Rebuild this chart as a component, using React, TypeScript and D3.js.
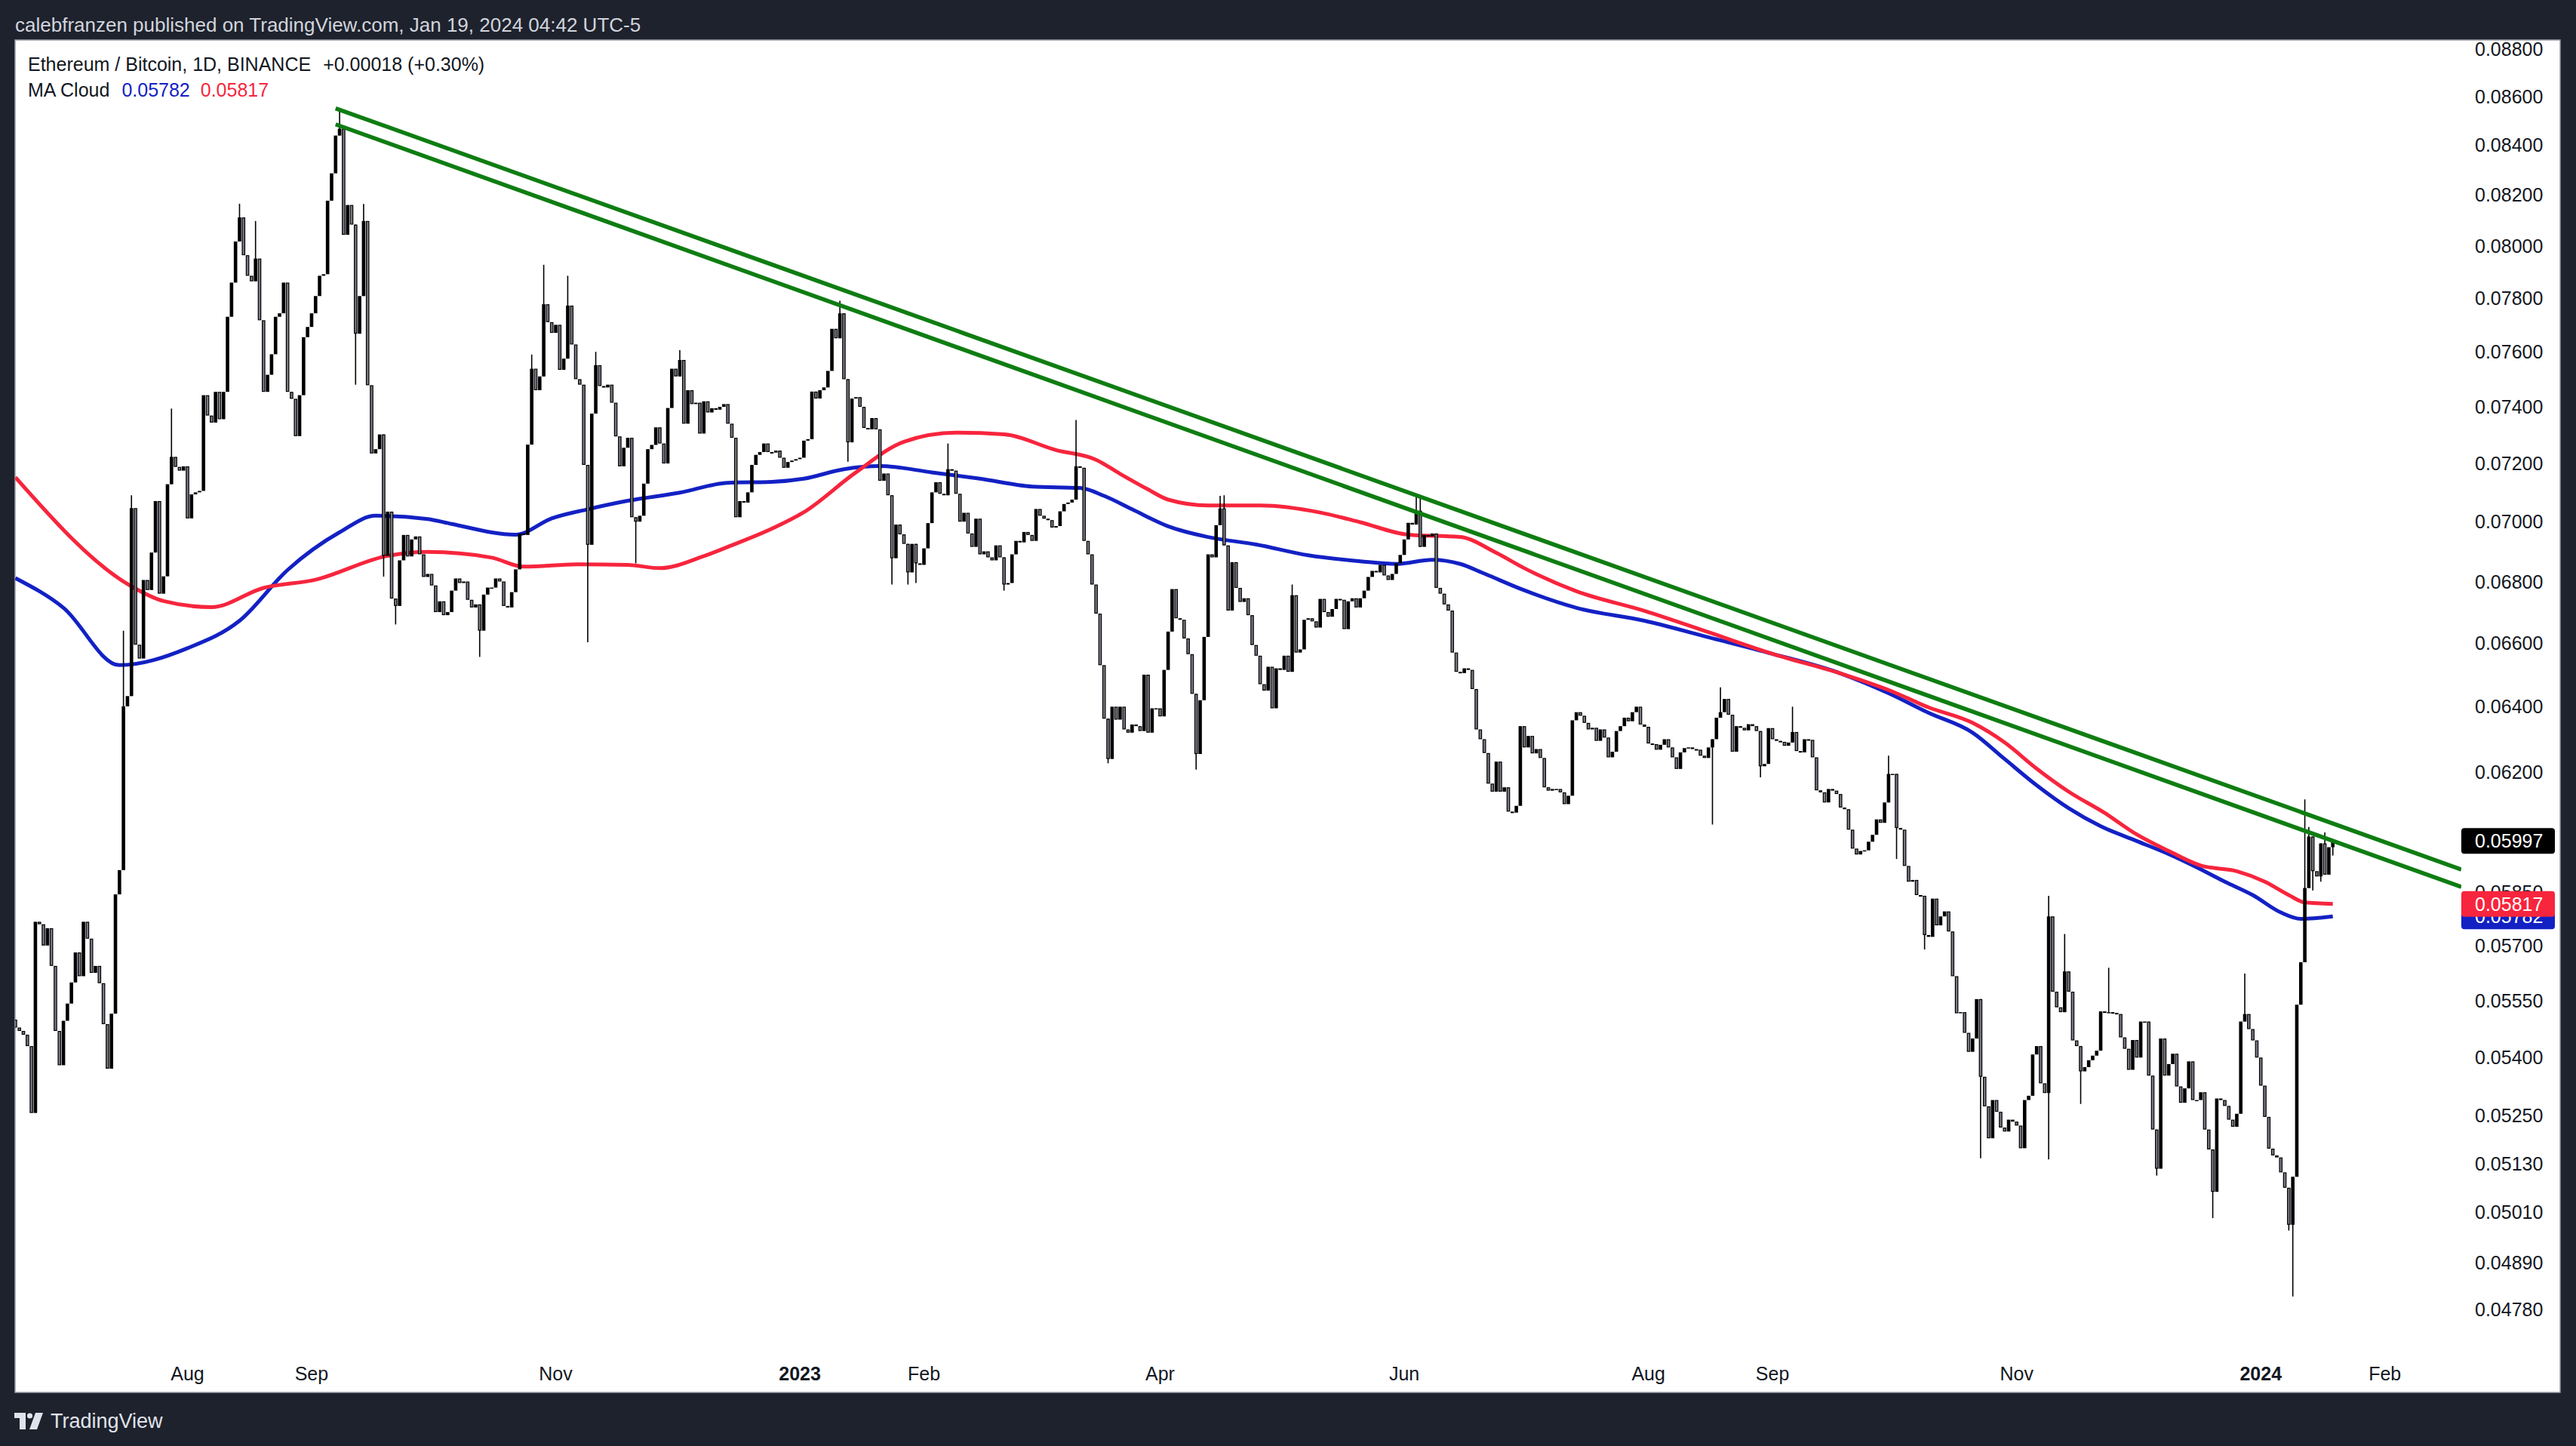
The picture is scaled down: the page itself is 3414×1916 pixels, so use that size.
import React from 'react'
import * as d3 from 'd3'

// page reset so the svg sits at 0,0
if (typeof document !== 'undefined') {
  document.body.style.margin = '0'
  document.body.style.background = '#1e222d'
}

const W = 3414
const H = 1916

// ETH/BTC daily closes (x1e5), 2022-06-19 .. 2024-01-19, open = previous close
const startDate = new Date(Date.UTC(2022, 5, 19))
const firstOpen = 5500
const closes: number[] = [
  // 2022 Jun 19 - Sep 20
  5479, 5470, 5460, 5430, 5257, 5767, 5760, 5701, 5749, 5645,
  5470, 5380, 5497, 5543, 5600, 5682, 5617, 5767, 5720, 5626,
  5645, 5598, 5488, 5371, 5516, 5844, 5913, 6401, 6433, 7046,
  6595, 6551, 6805, 6772, 6896, 7070, 6760, 6817, 7128, 7223,
  7188, 7175, 7190, 7011, 7093, 7100, 7105, 7442, 7369, 7344,
  7454, 7356, 7454, 7730, 7859, 8017, 8111, 7964, 7885, 7864,
  7951, 7717, 7454, 7516, 7591, 7730, 7743, 7859, 7454, 7429,
  7296, 7442, 7654, 7692, 7743, 7808, 7885, 7891, 8177, 8286,
  8439, 8467, 8043, 8160, 8083, 7667, 7808, 8097, 7478, 7235,
  7250, 7302, 6885, 7034,
  // Sep 21 - Dec 20
  6744, 6720, 6870, 6955, 6883, 6940, 6950, 6890, 6815, 6825,
  6787, 6700, 6735, 6690, 6700, 6770, 6810, 6795, 6800, 6740,
  6715, 6725, 6640, 6757, 6780, 6780, 6810, 6800, 6720, 6715,
  6765, 6840, 6960, 6955, 7266, 7538, 7460, 7510, 7777, 7710,
  7670, 7700, 7534, 7575, 7772, 7627, 7500, 7480, 7195, 6922,
  7376, 7551, 7475, 7470, 7480, 7415, 7295, 7190, 7255, 7290,
  7015, 7000, 7020, 7130, 7250, 7265, 7327, 7270, 7200, 7396,
  7538, 7510, 7570, 7340, 7460, 7410, 7415, 7305, 7420, 7380,
  7395, 7390, 7400, 7410, 7340, 7290, 7015, 7070, 7065, 7100,
  7195,
  // Dec 21 - Mar 24 2023
  7230, 7240, 7270, 7240, 7238, 7245, 7220, 7185, 7205, 7210,
  7215, 7220, 7280, 7285, 7455, 7430, 7460, 7470, 7530, 7685,
  7650, 7743, 7500, 7274, 7430, 7435, 7400, 7325, 7320, 7360,
  7320, 7140, 7165, 7090, 6877, 6990, 6957, 6925, 6830, 6925,
  6860, 6855, 6910, 6995, 7100, 7135, 7095, 7090, 7180, 7175,
  7095, 7000, 7030, 6960, 6915, 7010, 6890,
  6900, 6880, 6870, 6920, 6880, 6790, 6795, 6890, 6935, 6930,
  6965, 6955, 6935, 7043, 7020,
  7010, 7005, 6980, 6985, 7035, 7060, 7065, 7075, 7190, 7185,
  6935, 6890, 6790, 6695, 6530, 6363, 6240, 6400, 6360, 6400,
  6330, 6320,
  // Mar 25 - Jun 30
  6345, 6340, 6325, 6500, 6320, 6395,
  6395, 6370, 6515, 6637, 6775, 6680, 6675, 6615, 6565, 6440,
  6255, 6420, 6620, 6890, 6880, 6988, 7045, 6920, 6705, 6864,
  6779, 6733, 6745, 6690, 6594, 6560, 6470, 6450, 6525, 6395,
  6520, 6515, 6560, 6509, 6755, 6570, 6580, 6675, 6680, 6670,
  6650, 6743, 6700, 6685, 6710, 6743, 6740, 6645, 6735, 6745,
  6715, 6745, 6770, 6815, 6835, 6830, 6855, 6820, 6805, 6825,
  6860, 6888, 6940, 6996,
  6990, 7037, 6915, 6955, 6950, 6960, 6779, 6760, 6725, 6705,
  6570, 6509, 6505, 6520, 6515, 6455, 6330, 6300, 6258, 6166,
  6142, 6232, 6142, 6155, 6083, 6080, 6100, 6340,
  // Jul 1 - Oct 9
  6275, 6310, 6257, 6270, 6243, 6155, 6145, 6150, 6150, 6140,
  6105, 6130, 6358, 6383, 6372, 6350, 6330, 6335, 6295, 6330,
  6305, 6245, 6262, 6325, 6340, 6366, 6355, 6383, 6400, 6345,
  6338, 6287, 6285, 6268, 6283, 6300, 6275, 6245, 6210, 6260,
  6273, 6275, 6270, 6268, 6250, 6243, 6275, 6300, 6366, 6383,
  6424, 6375, 6262, 6340, 6335, 6327, 6346, 6340, 6325, 6218,
  6225, 6334, 6300, 6295, 6292,
  6280, 6290, 6322, 6264, 6260, 6300, 6298, 6245, 6146, 6140,
  6110, 6150, 6145, 6135, 6095, 6090, 6030, 5975, 5958, 5968,
  5970, 5995, 6015, 6060, 6050, 6110, 6195, 6195, 6035, 6030,
  5925, 5880, 5885, 5842, 5840, 5730,
  // Oct 10 - Jan 10 2024
  5725, 5832, 5757, 5782, 5796, 5740, 5617, 5517, 5520, 5465,
  5415, 5450, 5555, 5350, 5274, 5193, 5290, 5260, 5220, 5210,
  5240, 5235, 5225, 5168, 5290, 5301, 5408, 5430, 5333, 5308,
  5782, 5575, 5533, 5520, 5630, 5575, 5445, 5430, 5364, 5375,
  5393, 5405, 5418, 5522, 5520, 5520, 5518, 5515, 5453, 5423,
  5368, 5446, 5400, 5495, 5495, 5353, 5215, 5117, 5450, 5353,
  5383, 5410, 5325, 5283, 5320, 5390, 5290, 5290, 5310, 5215,
  5165, 5060, 5294, 5290, 5275, 5240, 5222, 5255, 5495, 5515,
  5475, 5445, 5400, 5327, 5247, 5167, 5150, 5145, 5108, 5070,
  4980, 5097, 5540,
  // Jan 11 - Jan 19
  5655, 5862, 6010, 5910, 5895, 5990, 5900, 5979, 5997,
]

// days with a visible wick (day index, high, low; 0 = none)
const spikeDay = [27, 29, 39, 56, 60, 81, 85, 87, 92, 95, 116, 129, 132, 138, 143, 145, 155, 166, 206, 208, 219, 223, 225, 233, 247, 265, 273, 295, 301, 302, 319, 350, 351, 424, 426, 436, 444, 468, 470, 477, 491, 508, 512, 516, 523, 535, 549, 557, 568, 569, 570, 571, 572, 573, 574, 576, 577, 579]
const spikeHigh = [6640, 7090, 7394, 8165, 8097, 8551, 0, 8164, 0, 0, 0, 7590, 7927, 7885, 0, 7600, 0, 7606, 7790, 0, 0, 0, 0, 7270, 0, 7353, 0, 0, 7088, 7090, 6790, 7084, 7080, 0, 6460, 0, 6400, 6250, 0, 0, 0, 5840, 5733, 0, 5640, 0, 0, 5624, 0, 0, 0, 0, 6119, 6038, 0, 0, 6022, 6003]
const spikeLow = [0, 0, 0, 0, 0, 0, 7480, 0, 6816, 6660, 6556, 0, 0, 0, 6603, 0, 6860, 0, 0, 7206, 6790, 6790, 6795, 0, 6770, 0, 6227, 6208, 0, 0, 0, 0, 0, 6045, 0, 6185, 0, 0, 5945, 5690, 5143, 5140, 0, 5280, 0, 5100, 4996, 0, 4966, 4810, 5440, 5620, 0, 0, 5855, 5880, 0, 5955]

// MA Cloud (day index, x1e5)
const blueDays = [0, 12, 26, 43, 56, 68, 81, 90, 103, 109, 125, 134, 143, 153, 166, 178, 189, 197, 207, 216, 229, 241, 254, 266, 272, 279, 288, 298, 310, 323, 336, 345, 354, 361, 367, 377, 390, 407, 423, 439, 456, 468, 478, 489, 497, 505, 513, 521, 530, 538, 545, 552, 559, 566, 571, 579]
const blueVals = [6811, 6714, 6530, 6584, 6672, 6838, 6964, 7020, 7009, 6992, 6956, 7011, 7042, 7071, 7099, 7133, 7136, 7147, 7180, 7191, 7169, 7147, 7120, 7115, 7088, 7042, 6984, 6948, 6923, 6887, 6867, 6858, 6872, 6858, 6826, 6771, 6714, 6672, 6619, 6566, 6504, 6442, 6381, 6320, 6240, 6161, 6093, 6040, 5997, 5959, 5921, 5880, 5842, 5793, 5775, 5782]
const redDays = [0, 29, 37, 49, 62, 75, 93, 103, 119, 127, 141, 153, 161, 172, 178, 189, 197, 210, 222, 235, 247, 260, 270, 276, 283, 288, 298, 311, 326, 336, 348, 361, 370, 377, 390, 407, 423, 439, 456, 468, 478, 489, 497, 505, 513, 522, 530, 538, 546, 555, 562, 568, 572, 579]
const redVals = [7152, 6784, 6736, 6716, 6779, 6806, 6885, 6898, 6879, 6849, 6857, 6855, 6844, 6884, 6915, 6976, 7032, 7169, 7276, 7308, 7302, 7247, 7213, 7164, 7110, 7075, 7055, 7055, 7031, 6998, 6956, 6948, 6895, 6844, 6768, 6704, 6635, 6566, 6504, 6452, 6398, 6350, 6290, 6211, 6142, 6079, 6016, 5968, 5926, 5910, 5880, 5842, 5821, 5817]

// two parallel trend lines from the Sep 2022 top (anchors: date, price)
const trendDates = ['2022-09-07', '2023-06-15']
const trendUpper = [0.08551, 0.07036]
const trendLower = [0.08485, 0.06979]

const priceTicks = [0.088, 0.086, 0.084, 0.082, 0.08, 0.078, 0.076, 0.074, 0.072, 0.07, 0.068, 0.066, 0.064, 0.062, 0.0585, 0.057, 0.0555, 0.054, 0.0525, 0.0513, 0.0501, 0.0489, 0.0478]
const timeTickDates = ['2022-08-01', '2022-09-01', '2022-11-01', '2023-01-01', '2023-02-01', '2023-04-01', '2023-06-01', '2023-08-01', '2023-09-01', '2023-11-01', '2024-01-01', '2024-02-01']
const timeTickLabels = ['Aug', 'Sep', 'Nov', '2023', 'Feb', 'Apr', 'Jun', 'Aug', 'Sep', 'Nov', '2024', 'Feb']

const lastPrice = 0.05997
const maBlueLast = 0.05782
const maRedLast = 0.05817

const FONT = '"Liberation Sans", Arial, sans-serif'
const GRAY = '#787b86'
const RED = '#f7253d'
const BLUE = '#1321c4'
const GREEN = '#0f7d12'

const dayOf = (s: string) => d3.utcDay.count(startDate, new Date(s + 'T00:00:00Z'))

export default function App() {
  const plot = { x0: 20, y0: 53, x1: 3262, y1: 1795 }
  const x = d3.scaleLinear().domain([0, 611.1]).range([20.4, 3262])
  const y = d3.scaleLog().domain([0.088, 0.0478]).range([65, 1735])

  const candles = closes.map((c, i) => {
    const open = (i === 0 ? firstOpen : closes[i - 1]) / 1e5
    const close = c / 1e5
    const k = spikeDay.indexOf(i)
    const hi = k >= 0 && spikeHigh[k] ? spikeHigh[k] / 1e5 : Math.max(open, close)
    const lo = k >= 0 && spikeLow[k] ? spikeLow[k] / 1e5 : Math.min(open, close)
    return { i, open, close, hi, lo, up: close >= open }
  })

  const maLine = d3
    .line<[number, number]>()
    .x((d) => x(d[0]))
    .y((d) => y(d[1] / 1e5))
    .curve(d3.curveMonotoneX)
  const bluePath = maLine(blueDays.map((d, i) => [d, blueVals[i]] as [number, number])) || ''
  const redPath = maLine(redDays.map((d, i) => [d, redVals[i]] as [number, number])) || ''

  const trendLine = (vals: number[]) => {
    const d0 = dayOf(trendDates[0])
    const d1 = dayOf(trendDates[1])
    const slope = Math.log(vals[1] / vals[0]) / (d1 - d0)
    const dEnd = x.domain()[1]
    const pEnd = vals[0] * Math.exp(slope * (dEnd - d0))
    return { x1: x(d0), y1: y(vals[0]), x2: x(dEnd), y2: y(pEnd) }
  }
  const tUp = trendLine(trendUpper)
  const tLo = trendLine(trendLower)

  const bw = 4.6
  const labelBox = (p: number, fill: string, key: string) => (
    <g key={key}>
      <rect x={3262} y={y(p) - 17} width={124} height={34} rx={4} fill={fill} />
      <text x={3280} y={y(p)} dy="0.36em" fontSize={25} fill="#ffffff" fontFamily={FONT}>
        {p.toFixed(5)}
      </text>
    </g>
  )

  return (
    <svg width={W} height={H} style={{ display: 'block', background: '#1e222d' }}>
      <defs>
        <clipPath id="plotClip">
          <rect x={plot.x0} y={plot.y0} width={plot.x1 - plot.x0} height={plot.y1 - plot.y0} />
        </clipPath>
      </defs>

      <text x={20} y={33} dy="0.35em" fontSize={26} fill="#d1d4dc" fontFamily={FONT}>
        calebfranzen published on TradingView.com, Jan 19, 2024 04:42 UTC-5
      </text>

      <rect x={20} y={53} width={3373} height={1792} fill="#ffffff" stroke="#9a9da6" strokeWidth={1.5} />

      <g clipPath="url(#plotClip)">
        <path d={bluePath} fill="none" stroke={BLUE} strokeWidth={5} />
        <path d={redPath} fill="none" stroke={RED} strokeWidth={5} />

        {candles.map((c) => {
          const cx = x(c.i)
          const top = y(Math.max(c.open, c.close))
          const bot = y(Math.min(c.open, c.close))
          const h = Math.max(bot - top, 1.5)
          const hasWick = c.hi > Math.max(c.open, c.close) || c.lo < Math.min(c.open, c.close)
          return (
            <g key={c.i}>
              {hasWick && (
                <line x1={cx} x2={cx} y1={y(c.hi)} y2={y(c.lo)} stroke="#000000" strokeWidth={1.6} />
              )}
              {c.up ? (
                <rect x={cx - bw / 2} y={top} width={bw} height={h} fill="#000000" />
              ) : (
                <rect
                  x={cx - bw / 2 + 0.6}
                  y={top + 0.6}
                  width={bw - 1.2}
                  height={Math.max(h - 1.2, 0.8)}
                  fill={GRAY}
                  stroke="#000000"
                  strokeWidth={1.2}
                />
              )}
            </g>
          )
        })}

        <line {...tUp} stroke={GREEN} strokeWidth={5.5} />
        <line {...tLo} stroke={GREEN} strokeWidth={5.5} />
      </g>

      {/* price scale */}
      {priceTicks.map((p) => (
        <text key={p} x={3280} y={y(p)} dy="0.36em" fontSize={25} fill="#131722" fontFamily={FONT}>
          {p.toFixed(5)}
        </text>
      ))}
      {labelBox(lastPrice, '#000000', 'last')}
      {labelBox(maBlueLast, BLUE, 'blue')}
      {labelBox(maRedLast, RED, 'red')}

      {/* time scale */}
      {timeTickDates.map((s, i) => (
        <text
          key={s}
          x={x(dayOf(s))}
          y={1820}
          dy="0.35em"
          textAnchor="middle"
          fontSize={25}
          fontWeight={/^\d{4}$/.test(timeTickLabels[i]) ? 'bold' : 'normal'}
          fill="#131722"
          fontFamily={FONT}
        >
          {timeTickLabels[i]}
        </text>
      ))}

      {/* legend */}
      <text x={37} y={85} dy="0.35em" fontSize={25} fill="#131722" fontFamily={FONT}>
        Ethereum / Bitcoin, 1D, BINANCE
        <tspan dx={16}>+0.00018 (+0.30%)</tspan>
      </text>
      <text x={37} y={119} dy="0.35em" fontSize={25} fill="#131722" fontFamily={FONT}>
        MA Cloud
        <tspan dx={16} fill={BLUE}>{maBlueLast.toFixed(5)}</tspan>
        <tspan dx={14} fill={RED}>{maRedLast.toFixed(5)}</tspan>
      </text>

      {/* footer logo */}
      <g fill="#e0e3eb">
        <path d="M19,1872 H34 V1894 H26 V1879 H19 Z" />
        <circle cx={39.5} cy={1876} r={3.6} />
        <path d="M47,1872 H57 L49,1894 H39 Z" />
      </g>
      <text x={67} y={1883} dy="0.35em" fontSize={27} fill="#e0e3eb" fontFamily={FONT}>
        TradingView
      </text>
    </svg>
  )
}
